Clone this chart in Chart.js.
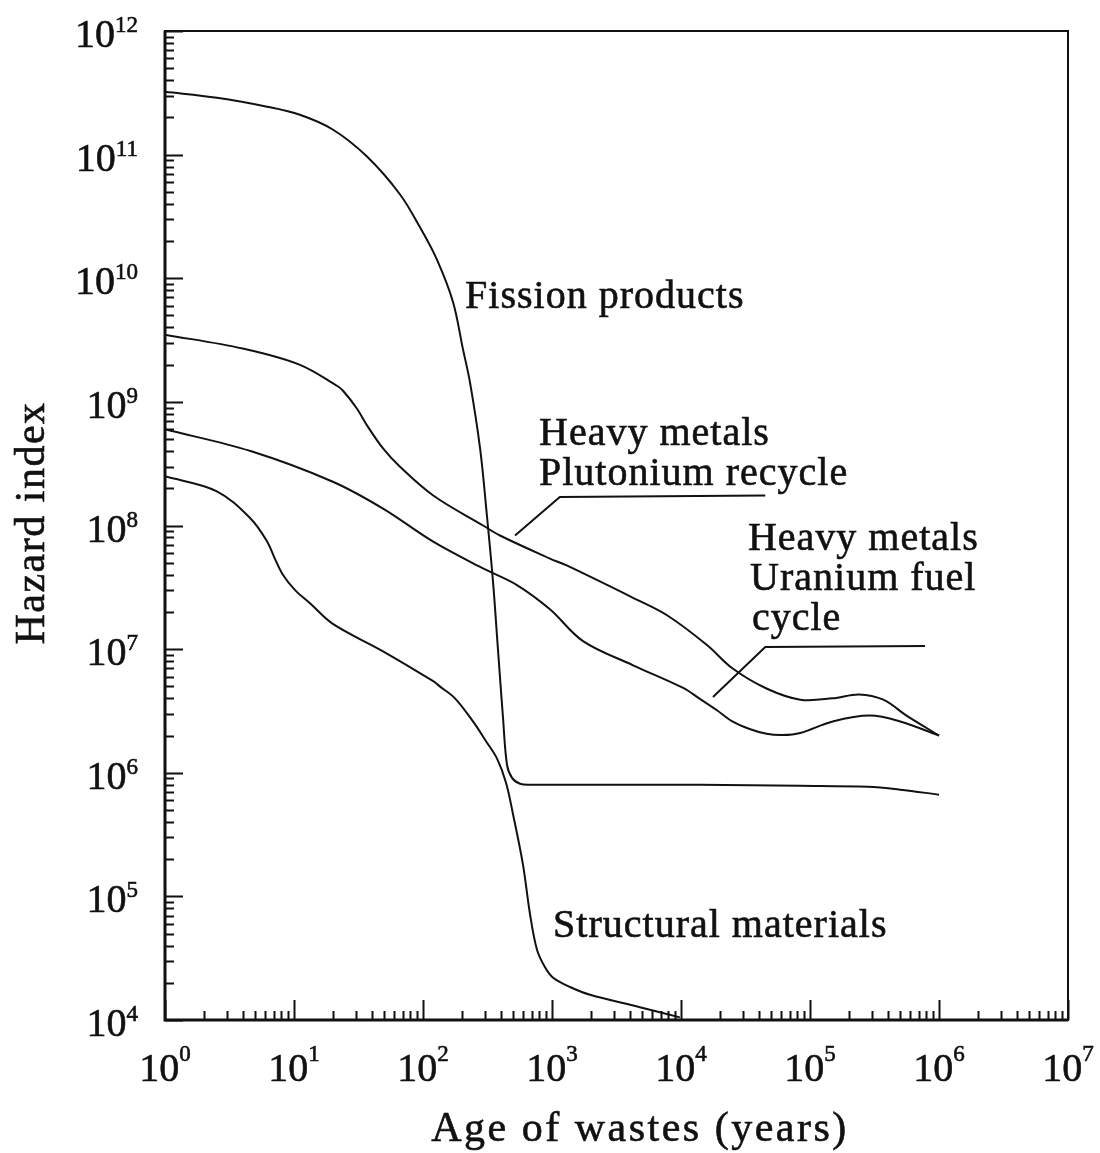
<!DOCTYPE html>
<html>
<head>
<meta charset="utf-8">
<title>Hazard index of wastes</title>
<script src="https://cdn.jsdelivr.net/npm/chart.js@4.4.0/dist/chart.umd.min.js"></script>
<style>
  html, body { margin: 0; padding: 0; background: #fff; }
  #wrap { width: 1100px; height: 1153px; position: relative; }
</style>
</head>
<body>
<div id="wrap"><canvas id="myChart"></canvas></div>
<script>
// values: age of wastes (years) -> hazard index
var fissionYears  = [1, 2.53, 6.18, 11.1, 20.1, 36.8, 66.4, 94.8, 128, 171, 204, 231, 277, 313, 349, 381, 417, 448, 490, 565, 675, 2350, 14000, 84000, 280000, 500000, 1000000];
var fissionHazard = [3.22e11, 2.88e11, 2.44e11, 2.1e11, 1.59e11, 9.64e10, 4.76e10, 2.58e10, 1.42e10, 6.4e9, 2.67e9, 1.45e9, 4.2e8, 1.2e8, 3.5e7, 1.0e7, 2.8e6, 1.16e6, 9.1e5, 8.15e5, 8.0e5, 8.0e5, 8.0e5, 7.85e5, 7.7e5, 7.3e5, 6.65e5];

var plutoniumYears  = [1, 4.0, 11, 21.5, 24, 30.8, 37, 49, 66, 120, 292, 395, 964, 1300, 4250, 7790, 15900, 25000, 46000, 84000, 150000, 240000, 370000, 560000, 1000000];
var plutoniumHazard = [3.5e9, 2.7e9, 2.0e9, 1.35e9, 1.23e9, 8.8e8, 6.4e8, 4.2e8, 3.0e8, 1.75e8, 1.0e8, 8.3e7, 5.4e7, 4.75e7, 2.6e7, 1.88e7, 1.08e7, 7.0e6, 4.8e6, 3.9e6, 4.0e6, 4.3e6, 3.9e6, 2.9e6, 2.0e6];

var uraniumYears  = [1, 4.6, 20, 49, 120, 292, 535, 964, 1740, 4250, 10400, 14000, 19000, 25000, 34000, 46000, 61000, 84000, 150000, 290000, 500000, 1000000];
var uraniumHazard = [6.0e8, 4.0e8, 2.26e8, 1.37e8, 7.4e7, 4.5e7, 3.3e7, 2.1e7, 1.16e7, 7.4e6, 4.85e6, 3.96e6, 3.2e6, 2.6e6, 2.26e6, 2.07e6, 2.02e6, 2.1e6, 2.6e6, 2.9e6, 2.6e6, 2.0e6];

var structuralYears  = [1, 2.5, 4.6, 6.2, 7.1, 8.2, 10.2, 13.3, 20, 49, 120, 135, 177, 244, 308, 375, 440, 499, 596, 675, 765, 883, 1020, 1380, 1970, 4800, 9800];
var structuralHazard = [2.5e8, 1.9e8, 1.14e8, 7.4e7, 5.4e7, 4.0e7, 3.0e7, 2.35e7, 1.6e7, 9.6e6, 5.5e6, 5.0e6, 4.0e6, 2.6e6, 1.8e6, 1.3e6, 8.3e5, 4.6e5, 1.8e5, 7.2e4, 3.7e4, 2.67e4, 2.2e4, 1.85e4, 1.6e4, 1.27e4, 1.05e4];

// leader lines pointing from the labels to the heavy metal curves
var puLeaderYears  = [517, 1150, 45000];
var puLeaderHazard = [8.3e7, 1.7e8, 1.75e8];
var uLeaderYears   = [17700, 45000, 780000];
var uLeaderHazard  = [4.1e6, 1.04e7, 1.06e7];

// curve labels (left edge, baseline)
var noteText   = ['Fission products', 'Heavy metals', 'Plutonium recycle', 'Heavy metals', 'Uranium fuel', 'cycle', 'Structural materials'];
var noteYears  = [212, 793, 793, 33000, 34300, 35500, 1020];
var noteHazard = [5.7e9, 4.5e8, 2.14e8, 6.3e7, 3.0e7, 1.42e7, 4.67e4];

// axis decades
var xExponents = [0, 1, 2, 3, 4, 5, 6, 7];
var yExponents = [4, 5, 6, 7, 8, 9, 10, 11, 12];

var serif = "'Liberation Serif', 'Times New Roman', serif";
var ink = '#111';

function pairs(xs, ys) {
  return xs.map(function (x, i) { return { x: x, y: ys[i] }; });
}

function curve(data) {
  return {
    data: data,
    borderColor: ink,
    borderWidth: 2,
    pointRadius: 0,
    fill: false,
    tension: 0.35
  };
}

function leader(data) {
  return {
    data: data,
    borderColor: ink,
    borderWidth: 2,
    pointRadius: 0,
    fill: false,
    tension: 0
  };
}

// text a little heavier, like the printed original
function inkText(ctx, t, x, y) {
  ctx.fillText(t, x, y);
  ctx.strokeText(t, x, y);
}

// frame, inward ticks, power-of-ten labels, axis titles and curve labels
var decorations = {
  id: 'decorations',
  afterDraw: function (chart) {
    var ctx = chart.ctx;
    var area = chart.chartArea;
    var xs = chart.scales.x;
    var ys = chart.scales.y;

    ctx.save();
    ctx.strokeStyle = ink;
    ctx.fillStyle = ink;

    // frame
    ctx.lineWidth = 2;
    ctx.strokeRect(area.left, area.top, area.right - area.left, area.bottom - area.top);
    ctx.lineWidth = 3;
    ctx.beginPath();
    ctx.moveTo(area.left, area.top);
    ctx.lineTo(area.left, area.bottom);
    ctx.lineTo(area.right, area.bottom);
    ctx.stroke();

    // ticks pointing into the plot
    ctx.lineWidth = 2;
    ctx.beginPath();
    yExponents.forEach(function (e) {
      for (var m = 1; m <= 9; m++) {
        if (e === yExponents[yExponents.length - 1] && m > 1) break;
        var py = Math.round(ys.getPixelForValue(m * Math.pow(10, e))) + 0.5;
        var len = m === 1 ? 18 : 9;
        ctx.moveTo(area.left, py);
        ctx.lineTo(area.left + len, py);
      }
    });
    xExponents.forEach(function (e) {
      for (var m = 1; m <= 9; m++) {
        if (e === xExponents[xExponents.length - 1] && m > 1) break;
        var px = Math.round(xs.getPixelForValue(m * Math.pow(10, e))) + 0.5;
        var len = m === 1 ? 20 : 9;
        ctx.moveTo(px, area.bottom);
        ctx.lineTo(px, area.bottom - len);
      }
    });
    ctx.stroke();

    // tick labels as 10 with a raised exponent
    var bigFont = '40px ' + serif;
    var smallFont = '23px ' + serif;
    ctx.textAlign = 'left';
    ctx.textBaseline = 'alphabetic';
    ctx.lineWidth = 0.6;

    yExponents.forEach(function (e) {
      var py = ys.getPixelForValue(Math.pow(10, e));
      ctx.font = smallFont;
      var we = ctx.measureText(String(e)).width;
      ctx.font = bigFont;
      var wt = ctx.measureText('10').width;
      var right = area.left - 27;
      inkText(ctx, '10', right - we - wt, py + 16);
      ctx.font = smallFont;
      inkText(ctx, String(e), right - we, py + 1);
    });

    xExponents.forEach(function (e) {
      var px = xs.getPixelForValue(Math.pow(10, e));
      ctx.font = smallFont;
      var we = ctx.measureText(String(e)).width;
      ctx.font = bigFont;
      var wt = ctx.measureText('10').width;
      var start = px - (wt + we) / 2;
      inkText(ctx, '10', start, area.bottom + 61);
      ctx.font = smallFont;
      inkText(ctx, String(e), start + wt, area.bottom + 41);
    });

    // axis titles
    ctx.font = '42px ' + serif;
    ctx.textAlign = 'center';
    ctx.letterSpacing = '2.5px';
    inkText(ctx, 'Age of wastes (years)', 640, area.bottom + 121);

    ctx.save();
    ctx.translate(44, 523);
    ctx.rotate(-Math.PI / 2);
    ctx.letterSpacing = '1.5px';
    inkText(ctx, 'Hazard index', 0, 0);
    ctx.restore();

    // curve labels
    ctx.font = '40px ' + serif;
    ctx.textAlign = 'left';
    ctx.letterSpacing = '1px';
    noteText.forEach(function (t, i) {
      inkText(ctx, t, xs.getPixelForValue(noteYears[i]), ys.getPixelForValue(noteHazard[i]));
    });

    ctx.restore();
  }
};

var ctx = document.getElementById('myChart').getContext('2d');
var myChart = new Chart(ctx, {
  type: 'line',
  data: {
    datasets: [
      curve(pairs(fissionYears, fissionHazard)),
      curve(pairs(plutoniumYears, plutoniumHazard)),
      curve(pairs(uraniumYears, uraniumHazard)),
      curve(pairs(structuralYears, structuralHazard)),
      leader(pairs(puLeaderYears, puLeaderHazard)),
      leader(pairs(uLeaderYears, uLeaderHazard))
    ]
  },
  options: {
    responsive: true,
    maintainAspectRatio: false,
    animation: false,
    events: [],
    layout: { padding: { top: 31, right: 32, left: 0, bottom: 0 } },
    plugins: {
      legend: { display: false },
      tooltip: { enabled: false },
      title: { display: false }
    },
    scales: {
      x: {
        type: 'logarithmic',
        min: 1,
        max: 1e7,
        grid: { display: false },
        border: { display: false },
        ticks: { display: false },
        afterFit: function (scale) { scale.height = 133; }
      },
      y: {
        type: 'logarithmic',
        min: 1e4,
        max: 1e12,
        grid: { display: false },
        border: { display: false },
        ticks: { display: false },
        afterFit: function (scale) { scale.width = 165; }
      }
    }
  },
  plugins: [decorations]
});
</script>
</body>
</html>
